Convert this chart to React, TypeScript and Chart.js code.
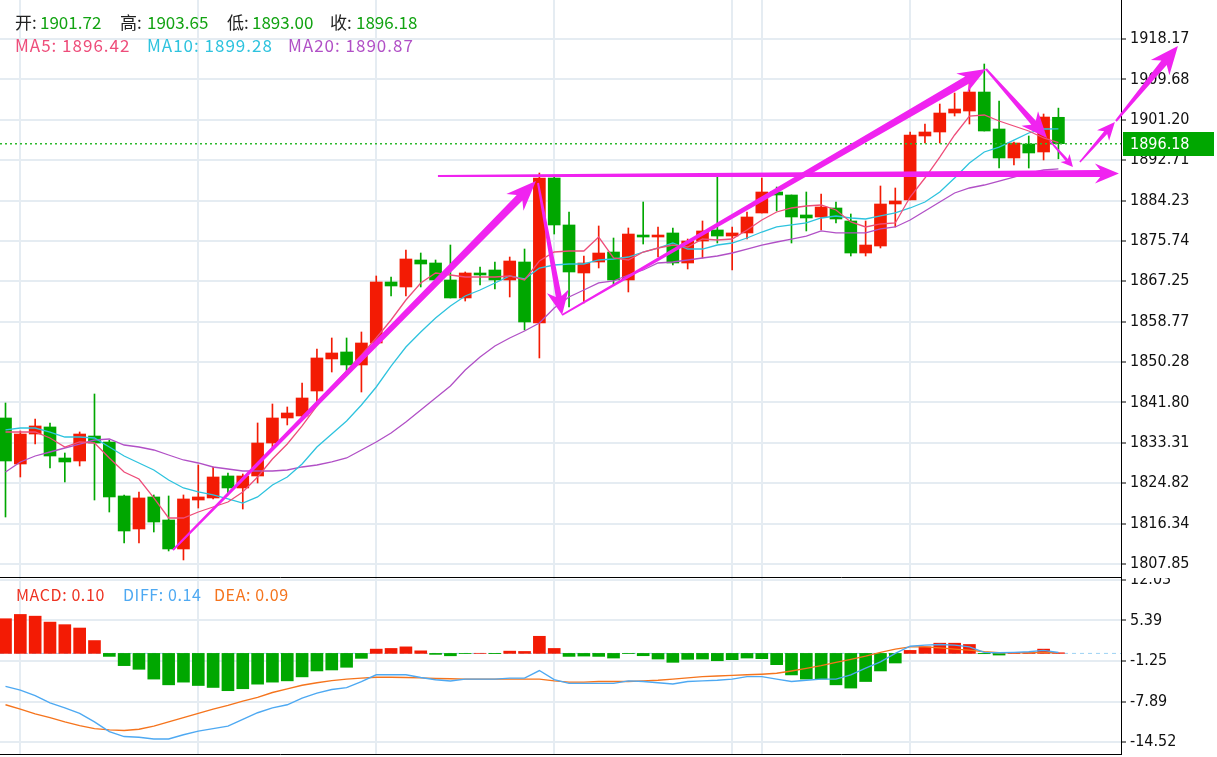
import React, { useEffect, useRef } from 'react';
import { Chart, registerables } from 'chart.js';

Chart.register(...registerables);

// ---------------- DATA ----------------
const opens = [1838.53, 1828.86, 1835.16, 1836.64, 1830.12, 1829.49, 1834.74, 1833.48, 1822.14, 1815.20,
  1821.93, 1817.09, 1811.00, 1821.29, 1821.72, 1826.34, 1823.82, 1826.34, 1833.27, 1838.53,
  1838.95, 1844.20, 1850.93, 1852.40, 1849.67, 1854.29, 1867.11, 1866.06, 1871.73, 1871.10,
  1867.53, 1863.75, 1869.00, 1869.63, 1867.53, 1871.31, 1858.49, 1888.96, 1879.09, 1869.00,
  1871.31, 1873.41, 1867.53, 1876.98, 1876.56, 1877.41, 1871.10, 1875.72, 1878.04, 1876.77,
  1877.41, 1881.61, 1886.02, 1885.39, 1881.19, 1880.77, 1882.66, 1879.93, 1873.20, 1874.67,
  1883.50, 1884.34, 1897.79, 1898.63, 1902.62, 1903.04, 1907.03, 1899.26, 1893.17, 1896.11,
  1894.43, 1901.72];
const highs = [1841.68, 1835.80, 1838.32, 1837.48, 1831.17, 1835.59, 1843.57, 1833.90, 1822.35, 1822.98,
  1822.35, 1822.14, 1822.35, 1828.65, 1828.23, 1826.97, 1826.76, 1837.48, 1841.47, 1840.84,
  1845.88, 1853.03, 1855.34, 1855.34, 1856.60, 1868.37, 1868.16, 1873.83, 1873.20, 1871.73,
  1874.88, 1869.21, 1870.26, 1871.31, 1872.36, 1874.04, 1890.01, 1889.17, 1881.82, 1872.57,
  1878.88, 1876.35, 1878.46, 1883.92, 1878.67, 1878.46, 1876.14, 1879.93, 1889.17, 1878.67,
  1881.82, 1888.96, 1887.07, 1885.39, 1886.02, 1885.60, 1883.92, 1881.40, 1879.93, 1887.28,
  1886.86, 1898.63, 1900.31, 1904.51, 1906.82, 1908.93, 1912.92, 1905.14, 1896.53, 1897.79,
  1902.41, 1903.65];
const lows = [1817.72, 1826.13, 1833.06, 1828.02, 1825.08, 1828.44, 1821.29, 1818.77, 1812.26, 1812.26,
  1814.57, 1810.58, 1808.69, 1819.61, 1821.51, 1822.35, 1819.40, 1824.87, 1832.22, 1837.06,
  1838.53, 1841.68, 1848.19, 1848.19, 1843.99, 1853.87, 1864.17, 1864.17, 1866.06, 1867.32,
  1863.75, 1863.11, 1866.48, 1865.64, 1863.96, 1857.02, 1851.14, 1877.19, 1861.85, 1862.69,
  1870.05, 1866.48, 1865.01, 1875.09, 1872.36, 1870.68, 1869.84, 1872.15, 1875.30, 1869.63,
  1876.14, 1881.61, 1882.03, 1875.30, 1877.83, 1878.04, 1879.51, 1872.57, 1872.57, 1874.25,
  1878.67, 1884.34, 1896.32, 1896.32, 1901.99, 1900.31, 1898.84, 1891.06, 1891.70, 1891.06,
  1892.75, 1893.00];
const closes = [1829.49, 1835.16, 1836.85, 1830.54, 1829.28, 1835.16, 1833.27, 1821.93, 1814.78, 1821.72,
  1816.67, 1811.00, 1821.51, 1821.93, 1826.13, 1823.82, 1826.34, 1833.27, 1838.53, 1839.58,
  1842.73, 1851.14, 1852.19, 1849.67, 1854.29, 1867.11, 1866.27, 1871.94, 1870.89, 1867.53,
  1863.75, 1869.00, 1868.58, 1867.53, 1871.52, 1858.70, 1888.96, 1879.09, 1869.21, 1871.10,
  1873.20, 1867.53, 1877.19, 1876.56, 1876.98, 1871.10, 1875.72, 1877.83, 1876.77, 1877.41,
  1880.77, 1886.02, 1885.39, 1880.77, 1880.56, 1882.87, 1880.35, 1873.20, 1874.88, 1883.50,
  1884.13, 1898.00, 1898.63, 1902.62, 1903.46, 1907.03, 1898.84, 1893.17, 1896.32, 1894.22,
  1901.78, 1896.18];

const ma5 = [1835.58, 1835.58, 1835.58, 1834.32, 1832.43, 1833.48, 1833.27, 1830.12, 1827.18, 1825.71,
  1821.72, 1817.51, 1817.51, 1818.77, 1819.82, 1820.87, 1822.98, 1826.13, 1829.91, 1833.06,
  1836.85, 1841.05, 1845.04, 1848.40, 1851.77, 1855.34, 1859.12, 1863.32, 1866.90, 1869.00,
  1868.58, 1868.16, 1868.16, 1868.16, 1868.37, 1867.53, 1871.52, 1873.41, 1873.62, 1873.62,
  1876.56, 1872.15, 1871.73, 1873.41, 1874.25, 1874.88, 1874.46, 1876.14, 1875.93, 1876.14,
  1878.04, 1880.13, 1881.82, 1882.66, 1883.08, 1883.29, 1882.24, 1879.72, 1878.67, 1879.30,
  1879.51, 1884.97, 1888.96, 1893.37, 1898.00, 1901.99, 1902.20, 1900.94, 1899.89, 1898.84,
  1897.37, 1896.42];
const ma10 = [1836.01, 1836.42, 1836.42, 1835.58, 1834.53, 1834.53, 1834.32, 1832.43, 1830.54, 1829.07,
  1827.60, 1825.50, 1823.82, 1822.98, 1822.35, 1821.51, 1820.66, 1821.93, 1824.45, 1826.13,
  1828.86, 1832.43, 1835.16, 1837.90, 1841.26, 1845.04, 1849.45, 1853.44, 1856.60, 1859.54,
  1862.06, 1864.17, 1865.42, 1866.90, 1868.37, 1867.74, 1870.05, 1870.68, 1870.89, 1870.89,
  1871.73, 1871.94, 1872.36, 1873.41, 1874.25, 1875.30, 1874.04, 1874.04, 1874.88, 1875.30,
  1876.35, 1877.61, 1878.67, 1879.09, 1879.51, 1880.56, 1880.98, 1880.56, 1880.35, 1880.98,
  1881.61, 1882.66, 1883.92, 1886.02, 1888.96, 1892.11, 1894.43, 1895.47, 1896.94, 1898.42,
  1899.26, 1899.28];
const ma20 = [1827.18, 1829.28, 1830.54, 1831.38, 1832.22, 1833.06, 1833.90, 1834.11, 1832.85, 1832.43,
  1831.80, 1830.75, 1829.70, 1829.07, 1828.23, 1827.81, 1827.39, 1827.39, 1827.39, 1827.60,
  1828.23, 1828.65, 1829.28, 1830.12, 1831.80, 1833.48, 1835.37, 1837.68, 1840.21, 1842.73,
  1845.25, 1848.61, 1851.34, 1853.66, 1855.34, 1856.81, 1858.49, 1861.64, 1863.96, 1865.42,
  1866.90, 1867.32, 1868.58, 1869.63, 1871.10, 1871.31, 1871.73, 1872.15, 1872.57, 1873.20,
  1874.04, 1874.88, 1875.51, 1876.14, 1876.77, 1877.83, 1877.41, 1877.41, 1877.41, 1878.25,
  1878.67, 1880.13, 1882.03, 1883.92, 1885.81, 1886.86, 1887.49, 1888.33, 1889.17, 1890.01,
  1890.64, 1890.87];

const macdHist = [5.67, 6.37, 6.09, 5.12, 4.70, 4.15, 2.10, -0.49, -2.00, -2.60,
  -4.20, -5.14, -4.70, -5.25, -5.57, -6.10, -5.78, -5.03, -4.70, -4.49,
  -3.84, -2.87, -2.71, -2.27, -0.81, 0.70, 0.81, 1.07, 0.42, -0.16,
  -0.39, -0.03, 0.02, -0.04, 0.37, 0.32, 2.80, 0.81, -0.49, -0.44,
  -0.49, -0.76, -0.03, -0.38, -0.92, -1.46, -0.97, -0.92, -1.20, -1.03,
  -0.76, -0.86, -1.84, -3.52, -4.20, -4.20, -5.14, -5.67, -4.60, -2.87,
  -1.57, 0.49, 1.07, 1.67, 1.67, 1.46, -0.05, -0.27, 0.05, 0.05,
  0.70, 0.10];
const diffLine = [-5.4, -6.0, -6.9, -8.1, -8.9, -9.8, -11.2, -12.8, -13.6, -13.7,
  -14.0, -14.0, -13.3, -12.7, -12.3, -11.9, -10.8, -9.7, -8.9, -8.4,
  -7.3, -6.5, -5.9, -5.6, -4.6, -3.5, -3.5, -3.5, -3.95, -4.3,
  -4.5, -4.2, -4.2, -4.2, -4.05, -4.05, -2.8, -4.3, -4.9, -4.9,
  -4.9, -4.9, -4.5, -4.6, -4.8, -5.0, -4.6, -4.5, -4.4, -4.2,
  -3.8, -3.8, -4.2, -4.6, -4.4, -4.2, -4.2, -3.5, -2.4, -1.4,
  0.0, 1.18, 1.35, 1.46, 1.35, 1.07, 0.16, 0.10, 0.16, 0.26,
  0.49, 0.14];
const deaLine = [-8.4, -9.1, -9.9, -10.5, -11.2, -11.8, -12.3, -12.5, -12.6, -12.4,
  -11.9, -11.2, -10.5, -9.8, -9.1, -8.5, -7.8, -7.2, -6.4, -5.8,
  -5.2, -4.8, -4.45, -4.2, -4.05, -3.9, -3.9, -3.95, -4.0, -4.1,
  -4.15, -4.2, -4.2, -4.2, -4.2, -4.2, -4.2, -4.5, -4.7, -4.7,
  -4.6, -4.6, -4.6, -4.5, -4.4, -4.2, -4.0, -3.8, -3.7, -3.6,
  -3.5, -3.4, -3.25, -2.87, -2.45, -2.0, -1.46, -0.97, -0.44, 0.16,
  0.7, 1.07, 1.07, 0.9, 0.7, 0.53, 0.26, 0.1, 0.1, 0.1,
  0.16, 0.09];

const priceTicks = [1807.85, 1816.34, 1824.82, 1833.31, 1841.80, 1850.28, 1858.77, 1867.25,
  1875.74, 1884.23, 1892.71, 1901.20, 1909.68, 1918.17];
const macdTicks = [12.03, 5.39, -1.25, -7.89, -14.52];
const gridIndices = [1, 13, 25, 37, 49, 51, 61];
const lastPrice = 1896.18;

// hand-drawn annotation arrows, in (candle index, price) coordinates
const arrowFrom = [[11.29, 1810.78], [29.16, 1889.38], [35.91, 1887.91], [37.53, 1860.17],
  [66.12, 1911.87], [70.43, 1896.74], [72.45, 1892.32], [74.88, 1900.94]];
const arrowTo = [[35.77, 1888.33], [75.08, 1889.91], [37.53, 1860.17], [66.12, 1911.87],
  [70.23, 1897.37], [71.98, 1891.27], [74.81, 1900.73], [79.06, 1916.70]];

// ---------------- STYLE ----------------
const RED = '#f31b04';
const GREEN = '#00a700';
const GRID = '#e5ecf2';
const MA5_C = '#ee4d7a';
const MA10_C = '#2ec3de';
const MA20_C = '#b150c6';
const DIFF_C = '#4ea9f2';
const DEA_C = '#f5741d';
const ARROW_C = '#f023f0';
const AXIS_FONT = "'DejaVu Sans Condensed', 'DejaVu Sans', sans-serif";
const LEGEND_FONT = "'Noto Sans CJK SC', 'Noto Sans', sans-serif";
const X_MIN = -0.371;
const X_MAX = 75.22;
const AXIS_W = 96;
const arrowStyles = [
  { w0: 2, w1: 8, len: 30, half: 12 },
  { w0: 2, w1: 7, len: 24, half: 10 },
  { w0: 2, w1: 6, len: 24, half: 11 },
  { w0: 2, w1: 8, len: 28, half: 11 },
  { w0: 2, w1: 6, len: 26, half: 11 },
  { w0: 1.5, w1: 3, len: 12, half: 6 },
  { w0: 1.5, w1: 4, len: 18, half: 8 },
  { w0: 2, w1: 7, len: 28, half: 12 },
];

function drawArrow(ctx: CanvasRenderingContext2D, x0: number, y0: number, x1: number, y1: number, st: any) {
  const dx = x1 - x0, dy = y1 - y0;
  const L = Math.hypot(dx, dy) || 1;
  const ux = dx / L, uy = dy / L;
  const nx = -uy, ny = ux;
  const bx = x1 - ux * st.len, by = y1 - uy * st.len;
  const ix = x1 - ux * st.len * 0.78, iy = y1 - uy * st.len * 0.78;
  ctx.beginPath();
  ctx.moveTo(x0 + nx * st.w0 / 2, y0 + ny * st.w0 / 2);
  ctx.lineTo(ix + nx * st.w1 / 2, iy + ny * st.w1 / 2);
  ctx.lineTo(bx + nx * st.half, by + ny * st.half);
  ctx.lineTo(x1, y1);
  ctx.lineTo(bx - nx * st.half, by - ny * st.half);
  ctx.lineTo(ix - nx * st.w1 / 2, iy - ny * st.w1 / 2);
  ctx.lineTo(x0 - nx * st.w0 / 2, y0 - ny * st.w0 / 2);
  ctx.closePath();
  ctx.fill();
}

const arrowPlugin = {
  id: 'arrows',
  afterDraw(chart: any) {
    const { ctx, scales } = chart;
    ctx.save();
    ctx.fillStyle = ARROW_C;
    arrowFrom.forEach((f, k) => {
      const t = arrowTo[k];
      drawArrow(ctx,
        scales.x.getPixelForValue(f[0]), scales.y.getPixelForValue(f[1]),
        scales.x.getPixelForValue(t[0]), scales.y.getPixelForValue(t[1]),
        arrowStyles[k]);
    });
    ctx.restore();
  },
};

const priceTagPlugin = {
  id: 'priceTag',
  afterDraw(chart: any) {
    const { ctx, scales, chartArea } = chart;
    const yp = Math.round(scales.y.getPixelForValue(lastPrice));
    const left = chartArea.right + 2;
    ctx.save();
    ctx.fillStyle = GREEN;
    ctx.fillRect(left, yp - 12, chart.width - 3 - left, 24);
    ctx.fillStyle = '#ffffff';
    ctx.font = `16px ${AXIS_FONT}`;
    ctx.textBaseline = 'middle';
    ctx.textAlign = 'left';
    ctx.fillText(lastPrice.toFixed(2), chartArea.right + 9, yp + 1);
    ctx.restore();
  },
};

function xScale(h: number) {
  return {
    type: 'linear',
    min: X_MIN,
    max: X_MAX,
    offset: false,
    afterBuildTicks: (axis: any) => { axis.ticks = gridIndices.map((v) => ({ value: v })); },
    afterFit: (axis: any) => { axis.height = h; axis.paddingLeft = 0; axis.paddingRight = 0; },
    ticks: { display: false },
    grid: { color: GRID, lineWidth: 2, drawTicks: false, offset: false },
    border: { display: true, color: '#000', width: 1 },
  };
}

function yScale(min: number, max: number, ticks: number[]) {
  return {
    position: 'right',
    min, max,
    afterBuildTicks: (axis: any) => { axis.ticks = ticks.map((v) => ({ value: v })); },
    afterFit: (axis: any) => { axis.width = AXIS_W; axis.paddingTop = 0; axis.paddingBottom = 0; },
    ticks: {
      autoSkip: false,
      padding: 4,
      color: '#111',
      font: { family: AXIS_FONT, size: 16 },
      callback: (v: any) => Number(v).toFixed(2),
    },
    grid: { color: GRID, lineWidth: 2, tickColor: '#000', tickLength: 5, tickWidth: 1 },
    border: { color: '#000', width: 1 },
  };
}

const candleColors = closes.map((c, i) => (c >= opens[i] ? RED : GREEN));

function mainConfig(): any {
  return {
    type: 'bar',
    data: {
      datasets: [
        { type: 'line', data: [{ x: X_MIN, y: lastPrice }, { x: X_MAX, y: lastPrice }], borderColor: '#2db82d', borderWidth: 1.5, borderDash: [2, 3], pointRadius: 0, order: 0 },
        { type: 'line', data: ma5.map((v, i) => ({ x: i, y: v })), borderColor: MA5_C, borderWidth: 1.3, pointRadius: 0, order: 1 },
        { type: 'line', data: ma10.map((v, i) => ({ x: i, y: v })), borderColor: MA10_C, borderWidth: 1.3, pointRadius: 0, order: 1 },
        { type: 'line', data: ma20.map((v, i) => ({ x: i, y: v })), borderColor: MA20_C, borderWidth: 1.3, pointRadius: 0, order: 1 },
        { type: 'bar', data: opens.map((o, i) => ({ x: i, y: [Math.min(o, closes[i]), Math.max(o, closes[i])] })), backgroundColor: candleColors, barThickness: 12, minBarLength: 1, grouped: false, borderWidth: 0, order: 2 },
        { type: 'bar', data: lows.map((l, i) => ({ x: i, y: [l, highs[i]] })), backgroundColor: candleColors, barThickness: 1, grouped: false, borderWidth: 0, order: 3 },
      ],
    },
    options: {
      responsive: false,
      animation: false,
      devicePixelRatio: 1,
      events: [],
      layout: { padding: 0, autoPadding: false },
      plugins: { legend: { display: false }, tooltip: { enabled: false } },
      scales: {
        x: xScale(1),
        y: yScale(1805.11, 1926.37, priceTicks),
      },
    },
    plugins: [priceTagPlugin, arrowPlugin],
  };
}

function macdConfig(): any {
  return {
    type: 'bar',
    data: {
      datasets: [
        { type: 'line', data: diffLine.map((v, i) => ({ x: i, y: v })), borderColor: DIFF_C, borderWidth: 1.4, pointRadius: 0, order: 0 },
        { type: 'line', data: deaLine.map((v, i) => ({ x: i, y: v })), borderColor: DEA_C, borderWidth: 1.4, pointRadius: 0, order: 0 },
        { type: 'bar', data: macdHist.map((v, i) => ({ x: i, y: v })), backgroundColor: macdHist.map((v) => (v >= 0 ? RED : GREEN)), barThickness: 12, borderWidth: 0, order: 2 },
        { type: 'line', data: [{ x: X_MIN, y: 0 }, { x: X_MAX, y: 0 }], borderColor: '#9dd2f3', borderWidth: 1, borderDash: [4, 4], pointRadius: 0, order: 4 },
      ],
    },
    options: {
      responsive: false,
      animation: false,
      devicePixelRatio: 1,
      events: [],
      layout: { padding: 0, autoPadding: false },
      plugins: { legend: { display: false }, tooltip: { enabled: false } },
      scales: {
        x: xScale(3),
        y: yScale(-16.45, 12.33, macdTicks),
      },
    },
  };
}

const last = closes.length - 1;

export default function App() {
  const mainRef = useRef<HTMLCanvasElement>(null);
  const macdRef = useRef<HTMLCanvasElement>(null);

  useEffect(() => {
    const c1 = new Chart(mainRef.current as HTMLCanvasElement, mainConfig());
    const c2 = new Chart(macdRef.current as HTMLCanvasElement, macdConfig());
    return () => { c1.destroy(); c2.destroy(); };
  }, []);

  const abs = (left: number, top: number, color: string, size: number, ls = 0): React.CSSProperties => ({
    position: 'absolute', left, top, color, fontSize: size, lineHeight: '20px',
    fontFamily: LEGEND_FONT, whiteSpace: 'nowrap', letterSpacing: ls,
  });
  const VAL = '#12a312';
  const LAB = '#222';

  return (
    <div style={{ position: 'fixed', left: 0, top: 0, width: 1217, height: 757, background: '#fff', overflow: 'hidden' }}>
      <canvas ref={mainRef} width={1217} height={578} style={{ position: 'absolute', left: 0, top: 0, width: 1217, height: 578 }} />
      <canvas ref={macdRef} width={1217} height={179} style={{ position: 'absolute', left: 0, top: 578, width: 1217, height: 179 }} />
      <span style={abs(15, 12, LAB, 17)}>开:</span>
      <span style={abs(40, 12, VAL, 17)}>{opens[last].toFixed(2)}</span>
      <span style={abs(120, 12, LAB, 17)}>高:</span>
      <span style={abs(147, 12, VAL, 17)}>{highs[last].toFixed(2)}</span>
      <span style={abs(227, 12, LAB, 17)}>低:</span>
      <span style={abs(252, 12, VAL, 17)}>{lows[last].toFixed(2)}</span>
      <span style={abs(330, 12, LAB, 17)}>收:</span>
      <span style={abs(356, 12, VAL, 17)}>{closes[last].toFixed(2)}</span>
      <span style={abs(15, 35, MA5_C, 17, 1)}>{`MA5: ${ma5[last].toFixed(2)}`}</span>
      <span style={abs(147, 35, MA10_C, 17, 1)}>{`MA10: ${ma10[last].toFixed(2)}`}</span>
      <span style={abs(288, 35, MA20_C, 17, 1)}>{`MA20: ${ma20[last].toFixed(2)}`}</span>
      <span style={abs(16, 584, '#ee3322', 16, 0.6)}>{`MACD: ${macdHist[last].toFixed(2)}`}</span>
      <span style={abs(123, 584, DIFF_C, 16, 0.6)}>{`DIFF: ${diffLine[last].toFixed(2)}`}</span>
      <span style={abs(214, 584, DEA_C, 16, 0.6)}>{`DEA: ${deaLine[last].toFixed(2)}`}</span>
    </div>
  );
}
